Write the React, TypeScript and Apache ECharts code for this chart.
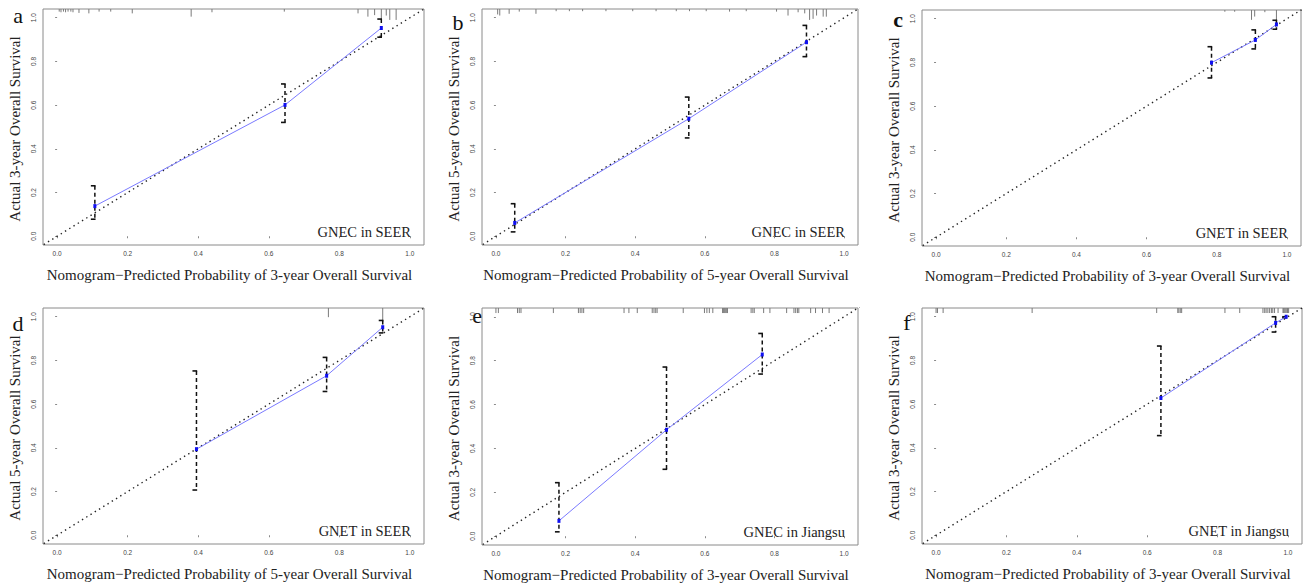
import React, { useEffect, useRef } from "react";
import * as echarts from "echarts";

// ---------- data ----------
const tickValues = [0, 0.2, 0.4, 0.6, 0.8, 1.0];
const idealLine = [
  [-0.05, -0.05],
  [1.05, 1.05],
];

const panelLetters = ["a", "b", "c", "d", "e", "f"];
const cohortLabels = [
  "GNEC in SEER",
  "GNEC in SEER",
  "GNET in SEER",
  "GNET in SEER",
  "GNEC in Jiangsu",
  "GNET in Jiangsu",
];
const xTitles = [
  "Nomogram\u2212Predicted Probability of 3-year Overall Survival",
  "Nomogram\u2212Predicted Probability of 5-year Overall Survival",
  "Nomogram\u2212Predicted Probability of 3-year Overall Survival",
  "Nomogram\u2212Predicted Probability of 5-year Overall Survival",
  "Nomogram\u2212Predicted Probability of 3-year Overall Survival",
  "Nomogram\u2212Predicted Probability of 3-year Overall Survival",
];
const yTitles = [
  "Actual 3-year Overall Survival",
  "Actual 5-year Overall Survival",
  "Actual 3-year Overall Survival",
  "Actual 5-year Overall Survival",
  "Actual 3-year Overall Survival",
  "Actual 3-year Overall Survival",
];

// predicted (x), observed (y), lower / upper CI
const predA = [0.107, 0.646, 0.919];
const obsA = [0.138, 0.601, 0.953];
const loA = [0.078, 0.521, 0.911];
const hiA = [0.231, 0.697, 0.994];

const predB = [0.054, 0.554, 0.892];
const obsB = [0.061, 0.538, 0.888];
const loB = [0.02, 0.45, 0.822];
const hiB = [0.149, 0.637, 0.965];

const predC = [0.785, 0.91, 0.97];
const obsC = [0.799, 0.903, 0.974];
const loC = [0.729, 0.862, 0.952];
const hiC = [0.872, 0.949, 0.993];

const predD = [0.395, 0.764, 0.923];
const obsD = [0.394, 0.73, 0.952];
const loD = [0.207, 0.658, 0.926];
const hiD = [0.752, 0.814, 0.983];

const predE = [0.181, 0.49, 0.765];
const obsE = [0.07, 0.485, 0.828];
const loE = [0.02, 0.305, 0.739];
const hiE = [0.244, 0.771, 0.924];

const predF = [0.639, 0.965, 0.995];
const obsF = [0.628, 0.972, 1.0];
const loF = [0.456, 0.93, 0.995];
const hiF = [0.866, 1.0, 1.0];

// rug of predicted risk at top: [predicted value, tick length in axis units]
const rugA = [
  [0.006, 0.012], [0.011, 0.015], [0.018, 0.012], [0.024, 0.015], [0.031, 0.012],
  [0.039, 0.012], [0.045, 0.015], [0.062, 0.018], [0.09, 0.02], [0.119, 0.012],
  [0.152, 0.012], [0.213, 0.02], [0.38, 0.035], [0.439, 0.015], [0.644, 0.012],
  [0.853, 0.02], [0.881, 0.035], [0.9, 0.028], [0.919, 0.045], [0.933, 0.03],
  [0.943, 0.05], [0.961, 0.05],
];
const rugB = [
  [0.005, 0.025], [0.011, 0.03], [0.038, 0.022], [0.067, 0.012], [0.115, 0.022],
  [0.173, 0.01], [0.211, 0.01], [0.249, 0.01], [0.316, 0.01], [0.393, 0.01],
  [0.46, 0.01], [0.518, 0.01], [0.556, 0.01], [0.604, 0.01], [0.671, 0.012],
  [0.719, 0.01], [0.806, 0.012], [0.839, 0.03], [0.868, 0.015], [0.887, 0.02],
  [0.901, 0.05], [0.911, 0.045], [0.921, 0.03], [0.94, 0.035], [0.949, 0.035],
];
const rugC = [
  [0.823, 0.008], [0.851, 0.008], [0.899, 0.045], [0.908, 0.03], [0.937, 0.01], [0.97, 0.055],
];
const rugD = [
  [0.769, 0.042], [0.923, 0.062],
];
const rugE = [
  [0.0, 0.023], [0.007, 0.023], [0.062, 0.023], [0.067, 0.023], [0.072, 0.023],
  [0.165, 0.023], [0.237, 0.023], [0.242, 0.023], [0.247, 0.023], [0.252, 0.023],
  [0.368, 0.023], [0.382, 0.023], [0.406, 0.023], [0.449, 0.023], [0.454, 0.023],
  [0.459, 0.023], [0.463, 0.023], [0.538, 0.023], [0.599, 0.023], [0.606, 0.023],
  [0.613, 0.023], [0.623, 0.023], [0.651, 0.023], [0.654, 0.023], [0.657, 0.023],
  [0.66, 0.023], [0.663, 0.023], [0.665, 0.023], [0.733, 0.023], [0.738, 0.023],
  [0.742, 0.023], [0.769, 0.023], [0.787, 0.023], [0.835, 0.023], [0.856, 0.023],
  [0.861, 0.023], [0.866, 0.023], [0.87, 0.023], [0.904, 0.023], [0.918, 0.023],
  [0.938, 0.023], [0.957, 0.023],
];
const rugF = [
  [0.0, 0.023], [0.004, 0.023], [0.02, 0.023], [0.273, 0.023], [0.627, 0.023],
  [0.687, 0.023], [0.69, 0.023], [0.694, 0.023], [0.698, 0.023], [0.821, 0.023],
  [0.863, 0.023], [0.929, 0.023], [0.934, 0.023], [0.938, 0.023], [0.943, 0.023],
  [0.948, 0.023], [0.953, 0.023], [0.957, 0.023], [0.962, 0.023], [0.972, 0.023],
  [0.986, 0.023], [0.988, 0.023], [0.991, 0.023], [0.994, 0.023], [0.997, 0.023],
  [0.999, 0.023], [1.002, 0.023],
];

const panelData = [
  { pred: predA, obs: obsA, lo: loA, hi: hiA, rug: rugA },
  { pred: predB, obs: obsB, lo: loB, hi: hiB, rug: rugB },
  { pred: predC, obs: obsC, lo: loC, hi: hiC, rug: rugC },
  { pred: predD, obs: obsD, lo: loD, hi: hiD, rug: rugD },
  { pred: predE, obs: obsE, lo: loE, hi: hiE, rug: rugE },
  { pred: predF, obs: obsF, lo: loF, hi: hiF, rug: rugF },
];

// ---------- layout ----------
const boxes = [
  { left: 43, top: 9, width: 381, height: 236 },
  { left: 482, top: 9, width: 376, height: 236 },
  { left: 922, top: 10, width: 379, height: 236 },
  { left: 43, top: 308, width: 381, height: 236 },
  { left: 482, top: 308, width: 376, height: 237 },
  { left: 922, top: 308, width: 380, height: 236 },
];
const letterPos = [
  [18, 15],
  [458, 22],
  [898, 19],
  [18, 323],
  [477, 315],
  [907, 322],
];

const AX_MIN = -0.04;
const AX_MAX = 1.04;
const SERIF = "Liberation Serif";
const SANS = "Liberation Sans";

function buildOption() {
  const grid = boxes.map((b) => ({
    ...b,
    show: true,
    borderColor: "#8a8a8a",
    borderWidth: 1,
    backgroundColor: "transparent",
  }));

  const axisCommon = (i: number) => ({
    type: "value",
    gridIndex: i,
    min: AX_MIN,
    max: AX_MAX,
    axisLine: { show: false },
    splitLine: { show: false },
    axisTick: {
      show: true,
      customValues: tickValues,
      length: 2,
      lineStyle: { color: "#8a8a8a", width: 1 },
    },
  });

  const xAxis = boxes.map((_, i) => ({
    ...axisCommon(i),
    axisLabel: {
      customValues: tickValues,
      formatter: (v: number) => v.toFixed(1),
      fontSize: 6.5,
      color: "#444",
      fontFamily: SANS,
      margin: 5,
    },
  }));
  const yAxis = boxes.map((_, i) => ({
    ...axisCommon(i),
    axisLabel: {
      customValues: tickValues,
      formatter: (v: number) => v.toFixed(1),
      fontSize: 6.5,
      color: "#444",
      fontFamily: SANS,
      rotate: 90,
      margin: 6,
    },
  }));

  const series: any[] = [];
  panelData.forEach((p, i) => {
    series.push({
      type: "custom",
      xAxisIndex: i,
      yAxisIndex: i,
      silent: true,
      data: p.rug,
      renderItem: (_params: any, api: any) => {
        const x = api.value(0);
        const h = api.value(1);
        const a = api.coord([x, AX_MAX]);
        const b = api.coord([x, AX_MAX - h]);
        return {
          type: "line",
          shape: { x1: a[0], y1: a[1], x2: b[0], y2: b[1] },
          style: { stroke: "#7a7a7a", lineWidth: 1 },
        };
      },
    });
    series.push({
      type: "line",
      xAxisIndex: i,
      yAxisIndex: i,
      silent: true,
      data: idealLine,
      symbol: "none",
      lineStyle: { color: "#222", width: 1.4, type: [1.4, 3.6] },
      z: 2,
    });
    series.push({
      type: "custom",
      xAxisIndex: i,
      yAxisIndex: i,
      silent: true,
      data: p.pred.map((x, k) => [x, p.lo[k], p.hi[k]]),
      renderItem: (_params: any, api: any) => {
        const x = api.value(0);
        const lo = api.value(1);
        const hi = api.value(2);
        const pHi = api.coord([x, hi]);
        const pLo = api.coord([x, lo]);
        const cap = 4;
        return {
          type: "group",
          children: [
            {
              type: "line",
              shape: { x1: pHi[0], y1: pHi[1], x2: pLo[0], y2: pLo[1] },
              style: { stroke: "#111", lineWidth: 1.5, lineDash: [4, 3] },
            },
            {
              type: "line",
              shape: { x1: pHi[0] - cap, y1: pHi[1], x2: pHi[0] + 0.7, y2: pHi[1] },
              style: { stroke: "#111", lineWidth: 1.6 },
            },
            {
              type: "line",
              shape: { x1: pLo[0] - cap, y1: pLo[1], x2: pLo[0] + 0.7, y2: pLo[1] },
              style: { stroke: "#111", lineWidth: 1.6 },
            },
          ],
        };
      },
      z: 3,
    });
    series.push({
      type: "line",
      xAxisIndex: i,
      yAxisIndex: i,
      silent: true,
      data: p.pred.map((x, k) => [x, p.obs[k]]),
      symbol: "rect",
      symbolSize: [3, 4],
      itemStyle: { color: "#1010f0" },
      lineStyle: { color: "#7a7aff", width: 1 },
      z: 4,
    });
  });

  const graphic: any[] = [];
  boxes.forEach((b, i) => {
    graphic.push({
      type: "text",
      x: b.left + b.width / 2 - 4,
      y: b.top + b.height + 30,
      style: {
        text: xTitles[i],
        fontSize: 15,
        fontFamily: SERIF,
        fill: "#222",
        align: "center",
        verticalAlign: "middle",
      },
    });
    graphic.push({
      type: "text",
      x: b.left - 28,
      y: b.top + b.height / 2 + 2,
      rotation: Math.PI / 2,
      style: {
        text: yTitles[i],
        fontSize: 15,
        fontFamily: SERIF,
        fill: "#222",
        align: "center",
        verticalAlign: "middle",
      },
    });
    graphic.push({
      type: "text",
      x: b.left + b.width - 13,
      y: b.top + b.height - 13,
      style: {
        text: cohortLabels[i],
        fontSize: 14.5,
        fontFamily: SERIF,
        fill: "#222",
        align: "right",
        verticalAlign: "middle",
      },
    });
    graphic.push({
      type: "text",
      x: letterPos[i][0],
      y: letterPos[i][1],
      style: {
        text: panelLetters[i],
        fontSize: 22,
        fontWeight: i === 2 ? "bold" : "normal",
        fontFamily: SERIF,
        fill: "#111",
        align: "center",
        verticalAlign: "middle",
      },
    });
  });

  return {
    animation: false,
    backgroundColor: "#ffffff",
    grid,
    xAxis,
    yAxis,
    series,
    graphic,
  };
}

export default function App() {
  const ref = useRef<HTMLDivElement>(null);
  useEffect(() => {
    if (!ref.current) return;
    const chart = echarts.init(ref.current, null, { renderer: "svg" });
    chart.setOption(buildOption() as any);
    return () => chart.dispose();
  }, []);
  return (
    <div
      ref={ref}
      style={{ position: "absolute", left: 0, top: 0, width: 1304, height: 583, background: "#fff" }}
    />
  );
}
